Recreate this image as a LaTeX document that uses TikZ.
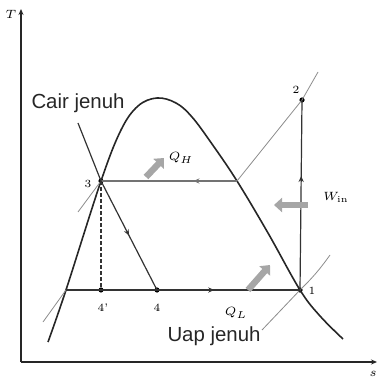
\documentclass[tikz,border=0pt]{standalone}
\usepackage{fontspec}
\newfontfamily\labfont{Liberation Sans}
\usetikzlibrary{decorations.markings,arrows.meta}
\tikzset{
  axis/.style={line width=0.7pt,black!85},
  dome/.style={line width=0.8pt,black!85},
  cyc/.style={line width=0.6pt,black!80},
  isobar/.style={line width=0.4pt,black!45},
  heat/.style={line width=3.2pt,black!35,-{Triangle[length=4pt,width=7pt]}},
  pt/.style={circle,fill=black,inner sep=0pt,minimum size=2.6pt},
  num/.style={font=\fontsize{5.5}{6}\selectfont,inner sep=0.5pt},
  sym/.style={font=\fontsize{6.5}{7}\selectfont,inner sep=0.5pt},
  lab/.style={font=\labfont\fontsize{10.2}{11}\selectfont,inner sep=0pt,black!85},
  midarrow/.style={decoration={markings,mark=at position #1 with {\arrow{Stealth[length=3pt,width=2.6pt]}}},postaction={decorate}},
}
\begin{document}
\begin{tikzpicture}[x=0.5pt,y=-0.5pt]
\useasboundingbox (0,0) rectangle (378,378);
% axes
\coordinate (O) at (21,362);
\coordinate (Ttop) at (21,9);
\coordinate (Send) at (377,362);
\draw[axis,-{Stealth[length=3pt,width=2.5pt]}] (O) -- (Ttop);
\draw[axis,-{Stealth[length=3pt,width=2.5pt]}] (O) -- (Send);
\node[sym,font=\itshape\fontsize{6.5}{7}\selectfont] (Tl) at (11,14) {$T$};
\node[sym] (sl) at (373,374) {$s$};
% points
\node[pt] (p1) at (300,290) {};
\node[pt] (p2) at (302,100) {};
\node[pt] (p3) at (101,181) {};
\node[pt] (p4) at (157,290) {};
\node[pt] (p4p) at (101,290) {};
\coordinate (lsat) at (66,290);
\coordinate (rsat) at (237,181);
% dome
\draw[dome] plot[smooth,tension=0.6] coordinates {(48,342) (66,290) (101,181) (121,130) (138,106) (157,98) (176,103) (192,117) (212,144) (237,181) (268,233) (300,290) (320,316) (343,339)};
% isobars
\coordinate (hiEnd) at (318,72);
\draw[isobar] (rsat) -- (p2.center) -- (hiEnd);
\coordinate (loA) at (262,330);
\coordinate (loB) at (330,255);
\draw[isobar] (loA) -- (p1.center) to[bend right=5] (loB);
\coordinate (liqA) at (78,212);
\draw[isobar] (p3.center) -- (liqA);
\coordinate (liqB) at (43,322);
\draw[isobar] (lsat) -- (liqB);
% cycle
\draw[cyc,midarrow=0.6] (p1.center) -- (p2.center);
\draw[line width=0.6pt,black!55,midarrow=0.32] (rsat) -- (p3.center);
\draw[cyc,midarrow=0.5] (p3.center) -- (p4.center);
\draw[cyc,dashed,dash pattern=on 2pt off 1pt] (p3.center) -- (p4p.center);
\draw[cyc] (lsat) -- (p4.center);
\draw[cyc,midarrow=0.4] (p4.center) -- (p1.center);
% Cair jenuh pointer
\coordinate (cjA) at (78,123);
\draw[cyc] (cjA) -- (p3.center);
% heat / work arrows
\coordinate (qhA) at (146,177);
\coordinate (qhB) at (164,158);
\draw[heat] (qhA) -- (qhB);
\coordinate (wA) at (308,205);
\coordinate (wB) at (274,205);
\draw[heat] (wA) -- (wB);
\coordinate (qlA) at (248,290);
\coordinate (qlB) at (270,265);
\draw[heat] (qlA) -- (qlB);
% labels
\node[num] (l1) at (312,291) {1};
\node[num] (l2) at (296,90) {2};
\node[num] (l3) at (88,184) {3};
\node[num] (l4) at (157,308) {4};
\node[num] (l4p) at (103,308) {4'};
\node[sym] (qh) at (181,158) {$Q_H$};
\node[sym] (ql) at (236,313) {$Q_L$};
\node[sym] (win) at (336,197) {$W_{\mathrm{in}}$};
\node[lab] (cj) at (78,103) {Cair jenuh};
\node[lab] (uj) at (214,336) {Uap jenuh};
\end{tikzpicture}
\end{document}
